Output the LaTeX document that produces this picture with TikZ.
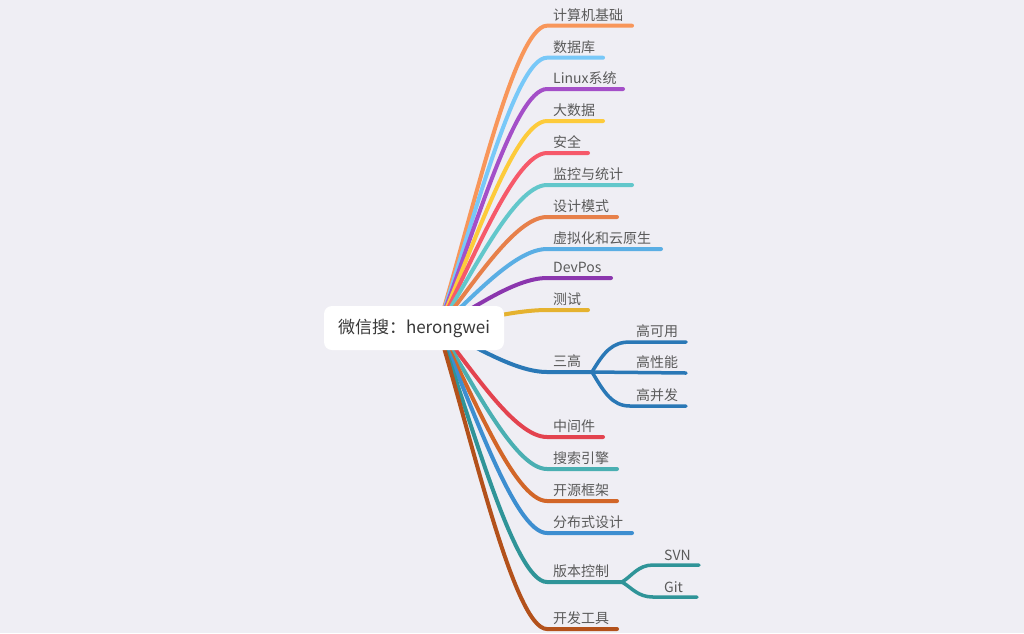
\documentclass[tikz,border=0pt]{standalone}
\usepackage{fontspec}
\setmainfont{Noto Sans CJK SC}
\usetikzlibrary{calc}
\definecolor{bg}{HTML}{EFEEF4}
\definecolor{txt}{HTML}{5A5A5A}
\definecolor{c1}{HTML}{F8965A}
\definecolor{c2}{HTML}{78C8F8}
\definecolor{c3}{HTML}{A44FC8}
\definecolor{c4}{HTML}{FDCB3B}
\definecolor{c5}{HTML}{F6596A}
\definecolor{c6}{HTML}{62C7CB}
\definecolor{c7}{HTML}{E7804A}
\definecolor{c8}{HTML}{5AAEE4}
\definecolor{c9}{HTML}{8B36AE}
\definecolor{c10}{HTML}{E5B22F}
\definecolor{c11}{HTML}{2A78B6}
\definecolor{c12}{HTML}{E3434F}
\definecolor{c13}{HTML}{4AAFB2}
\definecolor{c14}{HTML}{D26628}
\definecolor{c15}{HTML}{3D8ED0}
\definecolor{c16}{HTML}{2F9498}
\definecolor{c17}{HTML}{B3511B}
\tikzset{
  br/.style={line width=4pt, line cap=round},
  subbr/.style={line width=3.5pt, line cap=round},
  lab/.style={font=\fontsize{14}{16}\selectfont, text=txt, inner sep=0pt, anchor=base west},
  rootbox/.style={fill=white, rounded corners=8pt, minimum width=180pt, minimum height=44pt, inner sep=0pt, font=\fontsize{17}{20}\selectfont, text=black!78}
}
\begin{document}
\begin{tikzpicture}[x=1pt,y=-1pt]
\fill[bg] (0,0) rectangle (1024,633);
\useasboundingbox (0,0) rectangle (1024,633);
\coordinate (o) at (438,328);
\foreach \c/\ye/\xe/\t/\n in {
  c1/25.7/632/计算机基础/b1,
  c2/57.7/603/数据库/b2,
  c3/89/623/Linux系统/b3,
  c4/121/603/大数据/b4,
  c5/153/588/安全/b5,
  c6/185/632/监控与统计/b6,
  c7/217/617/设计模式/b7,
  c8/249/661/虚拟化和云原生/b8,
  c9/278/611/DevPos/b9,
  c10/310/588/测试/b10,
  c11/372/592/三高/b11,
  c12/437/603/中间件/b12,
  c13/469/617/搜索引擎/b13,
  c14/501/617/开源框架/b14,
  c15/533/632/分布式设计/b15,
  c16/582/622/版本控制/b16,
  c17/629/617/开发工具/b17}{
  \pgfmathsetmacro\pb{328+0.35*(\ye-328)}
  \coordinate (\n-s) at (547,\ye);
  \coordinate (\n-e) at (\xe,\ye);
  \draw[br,\c] (o) .. controls (470.7,\pb) and (514,\ye) .. (\n-s) -- (\n-e);
  \node[lab] (\n) at (553,\ye-5.5) {\t};
}
% 三高 sub-branches
\coordinate (s1-s) at (630,342); \coordinate (s1-e) at (686,342);
\coordinate (s2-e) at (686,373);
\coordinate (s3-s) at (630,406); \coordinate (s3-e) at (686,406);
\draw[subbr,c11] (b11-e) .. controls (604,352) and (612,342) .. (s1-s) -- (s1-e);
\draw[subbr,c11] (b11-e) -- (s2-e);
\draw[subbr,c11] (b11-e) .. controls (604,392) and (612,406) .. (s3-s) -- (s3-e);
\node[lab] (s1) at (636,336.5) {高可用};
\node[lab] (s2) at (636,367.5) {高性能};
\node[lab] (s3) at (636,400.5) {高并发};
% 版本控制 sub-branches
\coordinate (v1-s) at (653,565); \coordinate (v1-e) at (699,565);
\coordinate (v2-s) at (653,597); \coordinate (v2-e) at (697,597);
\draw[subbr,c16] (b16-e) .. controls (632,576) and (638,565) .. (v1-s) -- (v1-e);
\draw[subbr,c16] (b16-e) .. controls (632,588) and (638,597) .. (v2-s) -- (v2-e);
\node[lab] (v1) at (664,560.5) {SVN};
\node[lab] (v2) at (664,592.5) {Git};
% root
\node[rootbox] (root) at (414,328) {微信搜：herongwei};
\end{tikzpicture}
\end{document}
